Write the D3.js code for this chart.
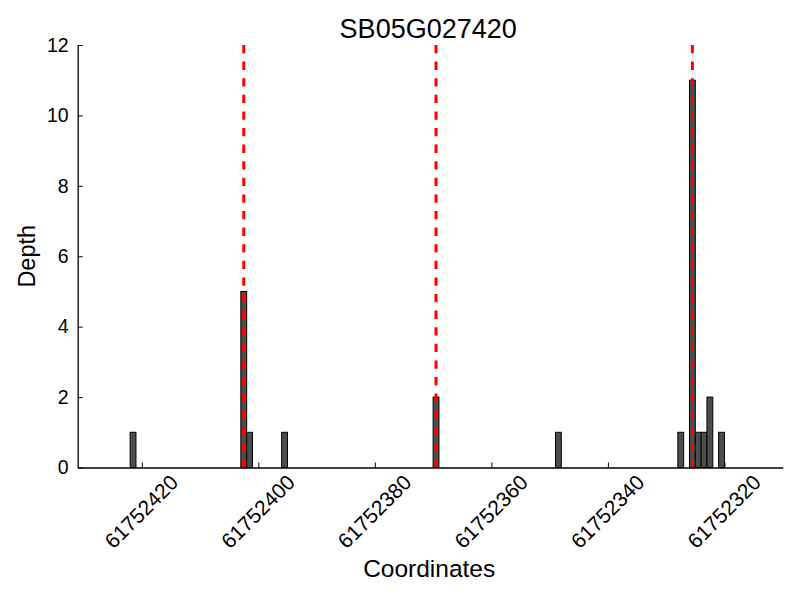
<!DOCTYPE html>
<html>
<head>
<meta charset="utf-8">
<script src="https://cdn.jsdelivr.net/npm/d3@7"></script>
<style>
  body { margin: 0; background: #fff; }
  svg { display: block; font-family: "Liberation Sans", Arial, Helvetica, sans-serif; }
</style>
</head>
<body>
<svg id="chart" width="800" height="600"></svg>
<script>
// ---- data ----
const title = "SB05G027420";
const xLabel = "Coordinates";
const yLabel = "Depth";
const positions = [61752421, 61752402, 61752401, 61752395, 61752369, 61752348, 61752327, 61752325, 61752324, 61752323, 61752322, 61752320];
const depths    = [1, 5, 1, 1, 2, 1, 1, 11, 1, 1, 2, 1];
const markers   = [61752402.5, 61752369.5, 61752325.5];
const xTicks = [61752420, 61752400, 61752380, 61752360, 61752340, 61752320];
const yTicks = [0, 2, 4, 6, 8, 10, 12];
const xDomain = [61752431, 61752310];
const yDomain = [0, 12];

// ---- layout ----
const mLeft = 77.7, mRight = 782.7, mTop = 45, mBottom = 467.5;
const svg = d3.select("#chart");
const x = d3.scaleLinear().domain(xDomain).range([mLeft, mRight]);
const y = d3.scaleLinear().domain(yDomain).range([mBottom, mTop]);

const bars = positions.map((p, i) => ({ p, d: depths[i] }));

// bars
svg.append("g").selectAll("rect").data(bars).join("rect")
  .attr("x", d => x(d.p + 1))
  .attr("width", d => x(d.p) - x(d.p + 1))
  .attr("y", d => y(d.d))
  .attr("height", d => y(0) - y(d.d))
  .attr("fill", "#4d4d4d")
  .attr("stroke", "#000")
  .attr("stroke-width", 1);

// red dashed markers
svg.append("g").selectAll("line").data(markers).join("line")
  .attr("x1", d => x(d)).attr("x2", d => x(d))
  .attr("y1", y(yDomain[1])).attr("y2", y(0))
  .attr("stroke", "#ff0000")
  .attr("stroke-width", 3)
  .attr("stroke-dasharray", "8.3,8.3");

// axes (ticks pointing inward)
const xAxis = d3.axisBottom(x).tickValues(xTicks).tickSizeInner(-5).tickSizeOuter(0).tickFormat(d3.format("d"));
const gx = svg.append("g").attr("transform", `translate(0,${mBottom})`).call(xAxis);
gx.attr("font-family", null);
gx.select(".domain").attr("stroke", "#000").attr("stroke-width", 1.3);
gx.selectAll(".tick line").attr("stroke", "#000");
gx.selectAll(".tick text").remove();
gx.selectAll(".tick").append("text")
  .attr("transform", "translate(-1,44) rotate(-45)")
  .attr("text-anchor", "middle")
  .attr("dominant-baseline", "central")
  .attr("fill", "#000")
  .attr("font-size", 21)
  .text(d => d3.format("d")(d));

const yAxis = d3.axisLeft(y).tickValues(yTicks).tickSizeInner(-5).tickSizeOuter(0).tickPadding(9);
const gy = svg.append("g").attr("transform", `translate(${mLeft},0)`).call(yAxis);
gy.attr("font-family", null);
gy.select(".domain").attr("stroke", "#000").attr("stroke-width", 1.3);
gy.selectAll(".tick line").attr("stroke", "#000");
gy.selectAll(".tick text").attr("font-size", 19.5).attr("fill", "#000");

// title & labels
svg.append("text").attr("x", (mLeft + mRight) / 2 - 2).attr("y", 38)
  .attr("text-anchor", "middle").attr("font-size", 27).attr("fill", "#000").text(title);
svg.append("text").attr("x", (mLeft + mRight) / 2 - 1).attr("y", 577)
  .attr("text-anchor", "middle").attr("font-size", 24.5).attr("fill", "#000").text(xLabel);
svg.append("text").attr("transform", `translate(35,${(mTop + mBottom) / 2}) rotate(-90)`)
  .attr("text-anchor", "middle").attr("font-size", 23.5).attr("fill", "#000").text(yLabel);
</script>
</body>
</html>
